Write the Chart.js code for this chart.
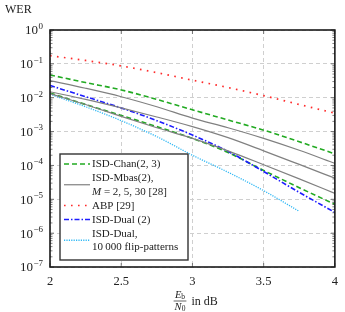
<!DOCTYPE html>
<html>
<head>
<meta charset="utf-8">
<script src="https://cdn.jsdelivr.net/npm/chart.js@4.4.1/dist/chart.umd.min.js"></script>
<style>
  html, body { margin: 0; padding: 0; background: #fff; }
  canvas { display: block; }
</style>
</head>
<body>
<canvas id="werChart" width="345" height="312"></canvas>
<script>
// Eb/N0 in dB
const snr = [2, 2.25, 2.5, 2.75, 3, 3.25, 3.5, 3.75, 4];
const snrFlip = [2, 2.25, 2.5, 2.75, 3, 3.25, 3.5, 3.75];

// WER values
const chanUpper = [0.047, 0.028, 0.017, 0.0089, 0.0044, 0.0022, 0.0011, 5.0e-4, 2.2e-4];
const chanLower = [0.0138, 0.0063, 0.0030, 0.0014, 6.3e-4, 2.4e-4, 7.1e-5, 2.2e-5, 7.1e-6];
const mbasM2 = [0.032, 0.019, 0.0107, 0.0054, 0.0025, 0.0013, 6.3e-4, 2.8e-4, 1.15e-4];
const mbasM5 = [0.015, 0.0089, 0.0050, 0.0027, 0.0014, 6.6e-4, 2.7e-4, 1.07e-4, 4.2e-5];
const mbasM30 = [0.0132, 0.0063, 0.0028, 0.0013, 6.3e-4, 2.7e-4, 1.05e-4, 4.0e-5, 1.5e-5];
const abp = [0.174, 0.126, 0.087, 0.055, 0.033, 0.020, 0.0115, 0.0063, 0.0035];
const dual2 = [0.0229, 0.0107, 0.0050, 0.0021, 7.9e-4, 2.6e-4, 6.6e-5, 1.6e-5, 4.1e-6];
const dualFlip = [0.0126, 0.0054, 0.0021, 7.1e-4, 2.0e-4, 6.3e-5, 1.8e-5, 4.4e-6];

// axis ticks
const xTicks = [2, 2.5, 3, 3.5, 4];
const xTickLabels = ['2', '2.5', '3', '3.5', '4'];
const yExponents = [0, -1, -2, -3, -4, -5, -6, -7];

const serif = '"Liberation Serif", "DejaVu Serif", serif';
const GREEN = '#22aa22', GRAY = '#808080', RED = '#ff2a2a', BLUE = '#1c1cff', CYAN = '#2fb8f5';

function pts(xs, ys) {
    return ys.map((v, i) => ({ x: xs[i], y: v }));
}

function line(data, color, dash, width) {
    return {
        data: data,
        borderColor: color,
        backgroundColor: color,
        borderDash: dash,
        borderWidth: width,
        pointRadius: 0,
        fill: false,
        cubicInterpolationMode: 'monotone'
    };
}

const datasets = [
    line(pts(snr, abp), RED, [1.6, 5.4], 1.7),
    line(pts(snr, mbasM2), GRAY, [], 1.2),
    line(pts(snr, mbasM5), GRAY, [], 1.2),
    line(pts(snr, mbasM30), GRAY, [], 1.2),
    line(pts(snrFlip, dualFlip), CYAN, [1.2, 1.2], 1.3),
    line(pts(snr, dual2), BLUE, [5, 2, 1.5, 2], 1.6),
    line(pts(snr, chanUpper), GREEN, [5, 3], 1.6),
    line(pts(snr, chanLower), GREEN, [5, 3], 1.6)
];

// legend: [dataset index, text lines]
const legendItems = [
    [6, ['ISD-Chan(2, 3)']],
    [1, ['ISD-Mbas(2),', '*M* = 2, 5, 30 [28]']],
    [0, ['ABP [29]']],
    [5, ['ISD-Dual (2)']],
    [4, ['ISD-Dual,', '10\u2009000 flip-patterns']]
];

// draws text where *...* parts are italic
function drawRich(ctx, str, x, y, size) {
    const parts = str.split('*');
    parts.forEach((p, i) => {
        ctx.font = (i % 2 ? 'italic ' : '') + size + 'px ' + serif;
        ctx.fillText(p, x, y);
        x += ctx.measureText(p).width;
    });
}

const decorPlugin = {
    id: 'decor',
    afterDraw(chart) {
        const { ctx, chartArea: a, scales: { x, y } } = chart;
        ctx.save();
        ctx.fillStyle = '#222';
        ctx.strokeStyle = '#333';

        // minor/major ticks along the log axis
        ctx.lineWidth = 0.6;
        yExponents.forEach(e => {
            for (let m = 1; m <= 9; m++) {
                const v = m * Math.pow(10, e);
                if (v > 1) break;
                const py = y.getPixelForValue(v);
                const len = m === 1 ? 4 : 2.5;
                ctx.beginPath();
                ctx.moveTo(a.left, py); ctx.lineTo(a.left + len, py);
                ctx.moveTo(a.right, py); ctx.lineTo(a.right - len, py);
                ctx.stroke();
            }
        });
        xTicks.forEach(v => {
            const px = x.getPixelForValue(v);
            ctx.beginPath();
            ctx.moveTo(px, a.bottom); ctx.lineTo(px, a.bottom - 4);
            ctx.moveTo(px, a.top); ctx.lineTo(px, a.top + 4);
            ctx.stroke();
        });

        // frame
        ctx.lineWidth = 1.6;
        ctx.strokeStyle = '#1a1a1a';
        ctx.strokeRect(a.left, a.top, a.right - a.left, a.bottom - a.top);

        // y tick labels 10^e
        ctx.textBaseline = 'middle';
        ctx.textAlign = 'left';
        yExponents.forEach(e => {
            const py = y.getPixelForValue(Math.pow(10, e));
            const exp = e < 0 ? '\u2212' + (-e) : String(e);
            ctx.font = '9px ' + serif;
            const wExp = ctx.measureText(exp).width;
            ctx.font = '13px ' + serif;
            const wBase = ctx.measureText('10').width;
            const right = a.left - 7;
            ctx.fillText('10', right - wExp - wBase - 0.5, py + 1);
            ctx.font = '9px ' + serif;
            ctx.fillText(exp, right - wExp, py - 3.5);
        });

        // WER label
        ctx.font = '12px ' + serif;
        ctx.fillText('WER', 5, 10);

        // x axis title: Eb/N0 in dB
        const cx = 180;
        const by = 301;
        ctx.font = 'italic 10.5px ' + serif;
        const wE = ctx.measureText('E').width;
        const wN = ctx.measureText('N').width;
        ctx.font = '7.5px ' + serif;
        const wb = ctx.measureText('b').width;
        const w0 = ctx.measureText('0').width;
        const wNum = wE + wb, wDen = wN + w0;
        const wFrac = Math.max(wNum, wDen) + 2;
        ctx.font = 'italic 10.5px ' + serif;
        ctx.fillText('E', cx - wNum / 2, by - 5.5);
        ctx.fillText('N', cx - wDen / 2, by + 6);
        ctx.font = '7.5px ' + serif;
        ctx.fillText('b', cx - wNum / 2 + wE, by - 3.5);
        ctx.fillText('0', cx - wDen / 2 + wN, by + 8);
        ctx.lineWidth = 0.7;
        ctx.strokeStyle = '#222';
        ctx.beginPath();
        ctx.moveTo(cx - wFrac / 2, by); ctx.lineTo(cx + wFrac / 2, by);
        ctx.stroke();
        ctx.font = '12px ' + serif;
        ctx.fillText('in dB', cx + wFrac / 2 + 5, by + 1);

        // legend box
        const lx = 60, ly = 154, lw = 128, lh = 106;
        ctx.fillStyle = '#fff';
        ctx.fillRect(lx, ly, lw, lh);
        ctx.lineWidth = 1.4;
        ctx.strokeStyle = '#333';
        ctx.strokeRect(lx, ly, lw, lh);
        ctx.fillStyle = '#222';
        let ty = ly + 10;
        const lineGap = 13.5;
        legendItems.forEach(([di, lines]) => {
            const ds = datasets[di];
            const sy = ty + (lines.length - 1) * lineGap / 2;
            ctx.save();
            ctx.strokeStyle = ds.borderColor;
            ctx.lineWidth = ds.borderWidth;
            ctx.setLineDash(ds.borderDash);
            ctx.beginPath();
            ctx.moveTo(lx + 4, sy); ctx.lineTo(lx + 30, sy);
            ctx.stroke();
            ctx.restore();
            lines.forEach((t, k) => {
                drawRich(ctx, t, lx + 32, ty + k * lineGap + 0.5, 11);
            });
            ty += lines.length * lineGap + 0.5;
        });

        ctx.restore();
    }
};

new Chart(document.getElementById('werChart'), {
    type: 'line',
    data: { datasets: datasets },
    options: {
        responsive: false,
        animation: false,
        layout: { padding: { top: 30, right: 7, left: 0, bottom: 0 } },
        plugins: { legend: { display: false }, tooltip: { enabled: false } },
        scales: {
            x: {
                type: 'linear',
                min: 2, max: 4,
                afterBuildTicks: s => { s.ticks = xTicks.map(v => ({ value: v })); },
                afterFit: s => { s.height = 45; },
                ticks: {
                    callback: (v) => xTickLabels[xTicks.indexOf(v)],
                    color: '#222',
                    font: { family: serif, size: 12.5 },
                    padding: 7,
                    maxRotation: 0
                },
                grid: { color: '#cfcfcf', lineWidth: 1, drawTicks: false },
                border: { display: false, dash: [4, 3] }
            },
            y: {
                type: 'logarithmic',
                min: 1e-7, max: 1,
                afterBuildTicks: s => { s.ticks = yExponents.map(e => ({ value: Math.pow(10, e) })); },
                afterFit: s => { s.width = 50; },
                ticks: { display: false },
                grid: { color: '#cfcfcf', lineWidth: 1, drawTicks: false },
                border: { display: false, dash: [4, 3] }
            }
        }
    },
    plugins: [decorPlugin]
});
</script>
</body>
</html>
